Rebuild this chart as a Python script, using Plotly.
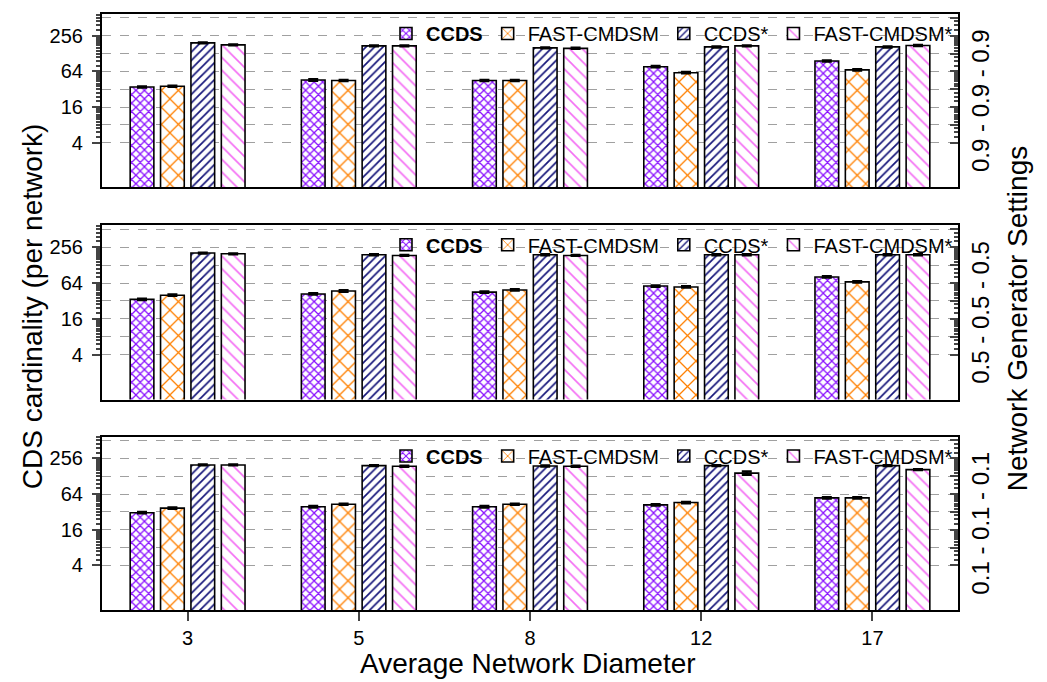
import plotly.graph_objects as go

# ---------------- data ----------------
categories = ['3', '5', '8', '12', '17']
series_names = ['<b>CCDS</b>', 'FAST-CMDSM', 'CCDS*', 'FAST-CMDSM*']
panel_labels = ['0.9 - 0.9 - 0.9', '0.5 - 0.5 - 0.5', '0.1 - 0.1 - 0.1']

# panel 1 : 0.9 - 0.9 - 0.9
p1_ccds = [35, 46, 45, 77, 96]
p1_fast = [36, 45, 45, 61, 68]
p1_ccds_s = [194, 173, 160, 166, 166]
p1_fast_s = [180, 173, 157, 173, 175]
p1_ccds_err = [0.8, 1.2, 1.0, 1.8, 2.2]
p1_fast_err = [0.8, 1.0, 1.0, 1.5, 1.6]
p1_ccds_s_err = [3, 3, 3, 3, 3]
p1_fast_s_err = [3, 3, 3, 3, 3]

# panel 2 : 0.5 - 0.5 - 0.5
p2_ccds = [34, 42, 45, 57, 81]
p2_fast = [40, 47, 49, 55, 67]
p2_ccds_s = [204, 191, 191, 191, 191]
p2_fast_s = [198, 186, 186, 191, 191]
p2_ccds_err = [0.8, 1.0, 1.0, 1.3, 1.8]
p2_fast_err = [1.0, 1.2, 1.2, 1.3, 1.5]
p2_ccds_s_err = [3, 3, 3, 3, 3]
p2_fast_s_err = [3, 3, 3, 3, 3]

# panel 3 : 0.1 - 0.1 - 0.1
p3_ccds = [31, 39, 39, 42, 55]
p3_fast = [37, 43, 43, 46, 55]
p3_ccds_s = [198, 193, 190, 193, 193]
p3_fast_s = [198, 188, 188, 144, 165]
p3_ccds_err = [0.8, 1.0, 1.0, 1.0, 1.3]
p3_fast_err = [1.0, 1.0, 1.0, 1.1, 1.3]
p3_ccds_s_err = [3, 3, 3, 3, 3]
p3_fast_s_err = [3, 3, 3, 9, 3]

major_ticks = [4, 8, 16, 32, 64, 128, 256, 512]
major_text = ['4', '', '16', '', '64', '', '256', '']

panels = [
    [p1_ccds, p1_fast, p1_ccds_s, p1_fast_s],
    [p2_ccds, p2_fast, p2_ccds_s, p2_fast_s],
    [p3_ccds, p3_fast, p3_ccds_s, p3_fast_s],
]
panel_errs = [
    [p1_ccds_err, p1_fast_err, p1_ccds_s_err, p1_fast_s_err],
    [p2_ccds_err, p2_fast_err, p2_ccds_s_err, p2_fast_s_err],
    [p3_ccds_err, p3_fast_err, p3_ccds_s_err, p3_fast_s_err],
]

# ---------------- style ----------------
FONT = 'Liberation Sans, Arial, sans-serif'
styles = [
    dict(shape='x', size=6, fg='#8A10FF', solidity=0.38),
    dict(shape='x', size=12, fg='#FF8000', solidity=0.2),
    dict(shape='/', size=6, fg='#15157A', solidity=0.28),
    dict(shape='\\', size=9, fg='#F46EF4', solidity=0.18),
]

# minor tick values (clusters between the labelled ticks)
minor_vals = []
for base in [4, 16, 64, 256]:
    step = base / 4
    v = base + step
    while v < base * 4 - 1e-9:
        if v < 600:
            minor_vals.append(v)
        v += step

domains = [[0.709, 1.0], [0.353, 0.6455], [0.0, 0.291]]
legend_names = ['legend', 'legend2', 'legend3']
yrange = [-0.5 * 0.30103, 9.22 * 0.30103]

fig = go.Figure()

for pi in range(3):
    ax = '' if pi == 0 else str(pi + 1)
    for si in range(4):
        st = styles[si]
        fig.add_trace(go.Bar(
            x=categories, y=panels[pi][si], name=series_names[si],
            xaxis='x' + ax, yaxis='y' + ax,
            legend=legend_names[pi],
            marker=dict(
                color='white',
                line=dict(color='black', width=1.6),
                pattern=dict(shape=st['shape'], size=st['size'], fgcolor=st['fg'],
                             bgcolor='white', solidity=st['solidity'], fillmode='replace'),
            ),
            error_y=dict(type='data', array=panel_errs[pi][si], visible=True,
                         color='black', thickness=2.5, width=5),
        ))
    # invisible companion trace so the right-hand tick axis is drawn
    fig.add_trace(go.Scatter(
        x=categories, y=panels[pi][2], xaxis='x' + ax, yaxis='y' + str(pi + 4),
        mode='markers', marker=dict(size=1, opacity=0), showlegend=False,
        hoverinfo='skip'))

# the page body has an 8px default margin, so the figure is 8px smaller
layout = dict(
    width=1039, height=674,
    margin=dict(l=94, r=89, t=4, b=72),
    plot_bgcolor='white', paper_bgcolor='white',
    barmode='group', bargap=0.29, bargroupgap=0.22,
    font=dict(family=FONT, size=20, color='black'),
    showlegend=True,
)

for pi in range(3):
    ax = '' if pi == 0 else str(pi + 1)
    layout['xaxis' + ax] = dict(
        domain=[0, 1], anchor='y' + ax, type='category',
        showline=True, linecolor='black', linewidth=2.2, mirror=True,
        ticks='outside' if pi == 2 else '', ticklen=9, tickwidth=2,
        showticklabels=(pi == 2), tickfont=dict(size=20, family=FONT),
        showgrid=False, zeroline=False,
    )
    layout['yaxis' + ax] = dict(
        domain=domains[pi], anchor='x' + ax, type='log', range=yrange,
        showline=True, linecolor='black', linewidth=2.2, mirror=True,
        tickmode='array', tickvals=major_ticks, ticktext=major_text,
        ticks='outside', ticklen=8, tickwidth=2, ticklabelstandoff=5,
        tickfont=dict(size=20, family=FONT),
        showgrid=True, gridcolor='#A0A0A0', griddash='dash', gridwidth=1.2,
        minor=dict(tickmode='array', tickvals=minor_vals, ticks='outside',
                   ticklen=4, tickwidth=1.5, showgrid=False),
        zeroline=False,
    )
    # right-hand mirrored ticks pointing inward
    layout['yaxis' + str(pi + 4)] = dict(
        overlaying='y' + ax, side='right', anchor='x' + ax, type='log', range=yrange,
        showline=False, showticklabels=False,
        tickmode='array', tickvals=major_ticks,
        ticks='inside', ticklen=8, tickwidth=2, showgrid=False, zeroline=False,
        minor=dict(tickmode='array', tickvals=minor_vals, ticks='inside',
                   ticklen=4, tickwidth=1.5, showgrid=False),
    )
    layout[legend_names[pi]] = dict(
        x=1.0, xanchor='right', y=domains[pi][1], yanchor='top',
        orientation='h', bgcolor='rgba(0,0,0,0)',
        font=dict(size=20, family=FONT), traceorder='normal',
        itemwidth=30, tracegroupgap=0,
    )

fig.update_layout(**layout)

annotations = []
for pi in range(3):
    annotations.append(dict(
        text=panel_labels[pi], xref='paper', yref='paper',
        x=1.008, y=(domains[pi][0] + domains[pi][1]) / 2,
        xanchor='left', yanchor='middle', textangle=-90, showarrow=False,
        font=dict(size=24, family=FONT)))
annotations.append(dict(
    text='Network Generator Settings', xref='paper', yref='paper',
    x=1.05, y=0.49, xanchor='left', yanchor='middle', textangle=-90,
    showarrow=False, font=dict(size=28, family=FONT)))
annotations.append(dict(
    text='CDS cardinality (per network)', xref='paper', yref='paper',
    x=-0.102, y=0.51, xanchor='left', yanchor='middle', textangle=-90,
    showarrow=False, font=dict(size=28, family=FONT)))
annotations.append(dict(
    text='Average Network Diameter', xref='paper', yref='paper',
    x=0.498, y=-0.062, xanchor='center', yanchor='top', borderpad=0,
    showarrow=False, font=dict(size=28, family=FONT)))
fig.update_layout(annotations=annotations)

fig.write_html('out.html')
